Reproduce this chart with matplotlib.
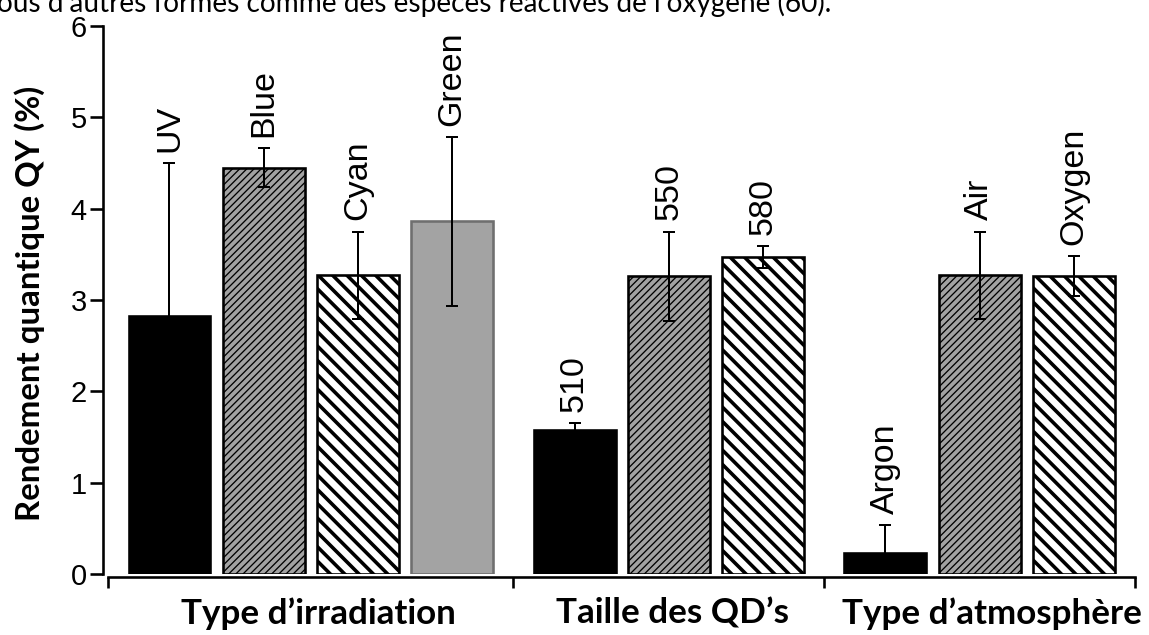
import matplotlib.pyplot as plt

DPI = 86
W, H = 1149, 635


def px(v):
    # pixel length -> points at this dpi
    return v * 72 / DPI


# quantum yield per condition (%), with error
labels = ['UV', 'Blue', 'Cyan', 'Green', '510', '550', '580', 'Argon', 'Air', 'Oxygen']
values = [2.83, 4.45, 3.27, 3.86, 1.58, 3.26, 3.47, 0.23, 3.27, 3.26]
errors = [1.67, 0.21, 0.48, 0.93, 0.07, 0.49, 0.12, 0.31, 0.48, 0.22]
groups = ['Type d\u2019irradiation', 'Taille des QD\u2019s', 'Type d\u2019atmosphère']
group_sizes = [4, 3, 3]
yticks = [0, 1, 2, 3, 4, 5, 6]

kinds = ['solid', 'dense', 'wide', 'grey', 'solid', 'dense', 'wide', 'solid', 'dense', 'wide']
look = {
    'solid': dict(color='black', edgecolor='black', hatch=None, hlw=1.0),
    'dense': dict(color='#a2a2a2', edgecolor='black', hatch='////', hlw=px(1.3)),
    'wide': dict(color='white', edgecolor='black', hatch='\\\\', hlw=px(3.6)),
    'grey': dict(color='#a3a3a3', edgecolor='#6f6f6f', hatch=None, hlw=1.0),
}

# bar slots, with a wider gap between groups
positions, bounds = [], []
x = 0.0
for n in group_sizes:
    start = x
    for i in range(n):
        positions.append(x)
        x += 1
    bounds.append((start - 0.65, x - 1 + 0.65))
    x += 0.3
edges = [bounds[0][0]] + [(bounds[i][1] + bounds[i + 1][0]) / 2 for i in range(len(bounds) - 1)] + [bounds[-1][1]]

fig = plt.figure(figsize=(W / DPI, H / DPI), dpi=DPI)
ax = fig.add_axes([102.6 / W, (H - 574) / H, (1139.8 - 102.6) / W, 548 / H])

for xp, v, k in zip(positions, values, kinds):
    st = look[k]
    with plt.rc_context({'hatch.linewidth': st['hlw']}):
        b = ax.bar(xp, v, width=0.87, color=st['color'], edgecolor=st['edgecolor'],
                   hatch=st['hatch'], linewidth=px(2.6), zorder=2)
    for p in b:
        if hasattr(p, 'set_hatch_linewidth'):
            p.set_hatch_linewidth(st['hlw'])

ax.errorbar(positions, values, yerr=errors, fmt='none', ecolor='black',
            elinewidth=px(2), capsize=px(6), capthick=px(2), zorder=3)

for xp, v, e, lab in zip(positions, values, errors, labels):
    ax.annotate(lab, (xp, v + e), xytext=(0, px(11)), textcoords='offset points',
                rotation=90, ha='center', va='bottom', fontsize=px(34),
                family='Liberation Sans')

ax.set_xlim(-0.71, 10.30)
ax.set_ylim(0, 6)
ax.set_yticks(yticks)
ax.set_xticks(edges)
ax.set_xticklabels([])
for s in ['top', 'right']:
    ax.spines[s].set_visible(False)
ax.spines['left'].set_bounds(0, 6)
ax.spines['bottom'].set_position(('outward', px(3)))
ax.spines['bottom'].set_bounds(edges[0], edges[-1])
for s in ['left', 'bottom']:
    ax.spines[s].set_linewidth(px(2.6))
ax.tick_params(axis='x', direction='out', length=px(11), width=px(2.6))
ax.tick_params(axis='y', direction='out', length=px(13), width=px(2.6),
               labelsize=px(29), pad=px(3))
for t in ax.get_yticklabels():
    t.set_family('Liberation Sans')

fig.text(30 / W, 1 - 303 / H, 'Rendement quantique QY (%)', rotation=90,
         ha='center', va='center', fontsize=px(33), fontweight='bold', family='Lato')

for cx, g in zip([318, 672, 992], groups):
    fig.text(cx / W, 1 - 624 / H, g, ha='center', va='baseline',
             fontsize=px(35), fontweight='bold', family='Lato')

fig.text(-3 / W, 1 - 12 / H,
         'ous d\u2019autres formes comme des espèces réactives de l\u2019oxygène (60).',
         ha='left', va='baseline', fontsize=px(28), family='Lato')

fig.savefig('out.png', dpi=DPI)
